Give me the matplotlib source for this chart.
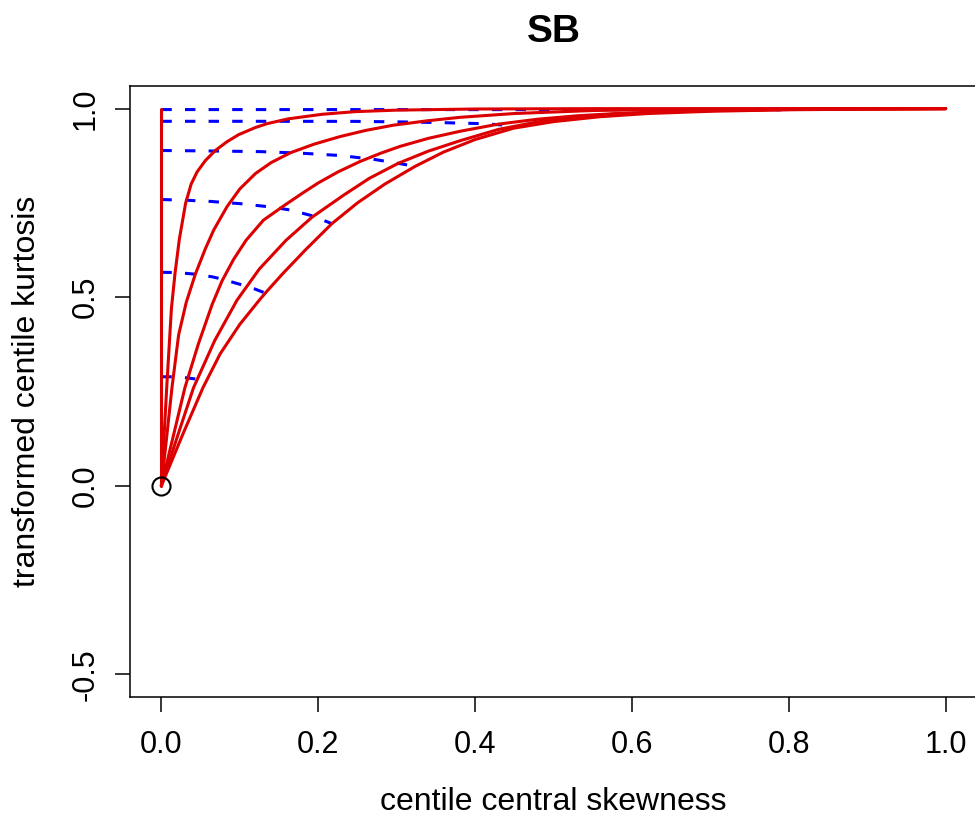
import matplotlib
matplotlib.use('Agg')
import matplotlib.pyplot as plt

plt.rcParams['font.family'] = ['Liberation Sans', 'DejaVu Sans']
plt.rcParams['lines.scale_dashes'] = False

# red curves: centile central skewness (sk) vs transformed centile kurtosis (ku)
sk_1 = [0.0, 0.0]
ku_1 = [0.0, 1.0]

sk_2 = [0, 0.0034, 0.0068, 0.0128, 0.0175, 0.023, 0.031, 0.038, 0.0455,
        0.056, 0.0688, 0.0835, 0.0985, 0.12, 0.1346, 0.162, 0.205, 0.247,
        0.3, 0.4, 0.55, 1.0]
ku_2 = [0, 0.13, 0.26, 0.47, 0.565, 0.655, 0.750, 0.800, 0.832,
        0.862, 0.889, 0.912, 0.931, 0.950, 0.960, 0.973, 0.985, 0.992,
        0.996, 0.999, 1.0, 1.0]

sk_3 = [0, 0.0068, 0.0135, 0.022, 0.0318, 0.0433, 0.056, 0.0667, 0.0837,
        0.1, 0.12, 0.14, 0.1646, 0.195, 0.228, 0.26, 0.2955, 0.34, 0.381,
        0.45, 0.55, 0.65, 0.8, 1.0]
ku_3 = [0, 0.13, 0.26, 0.40, 0.487, 0.561, 0.628, 0.678, 0.740,
        0.787, 0.828, 0.857, 0.883, 0.906, 0.926, 0.942, 0.956, 0.968, 0.977,
        0.987, 0.995, 0.998, 0.9995, 1.0]

sk_4 = [0, 0.015, 0.030, 0.047, 0.0646, 0.0773, 0.092, 0.108, 0.13, 0.1558,
        0.18, 0.2, 0.225, 0.2535, 0.28, 0.3045, 0.34, 0.381, 0.43, 0.48,
        0.53, 0.58, 0.65, 0.72, 0.8, 0.9, 1.0]
ku_4 = [0, 0.13, 0.26, 0.375, 0.480, 0.543, 0.600, 0.651, 0.704, 0.742,
        0.776, 0.803, 0.832, 0.860, 0.882, 0.900, 0.921, 0.940, 0.959, 0.972,
        0.981, 0.987, 0.992, 0.9956, 0.9976, 0.999, 1.0]

sk_5 = [0, 0.02, 0.041, 0.068, 0.0964, 0.125, 0.159, 0.192, 0.232, 0.265,
        0.302, 0.34, 0.381, 0.43, 0.48, 0.53, 0.58, 0.65, 0.72, 0.8, 0.9,
        1.0]
ku_5 = [0, 0.128, 0.26, 0.385, 0.492, 0.575, 0.651, 0.712, 0.770, 0.815,
        0.855, 0.887, 0.915, 0.945, 0.965, 0.978, 0.986, 0.992, 0.996, 0.998,
        0.9993, 1.0]

sk_6 = [0, 0.027, 0.053, 0.075, 0.1, 0.124, 0.1325, 0.155, 0.183, 0.2174,
        0.25, 0.285, 0.3236, 0.36, 0.40, 0.4488, 0.5, 0.559, 0.62, 0.7, 0.8,
        0.9, 1.0]
ku_6 = [0, 0.135, 0.26, 0.35, 0.428, 0.490, 0.511, 0.563, 0.624, 0.695,
        0.750, 0.800, 0.847, 0.885, 0.918, 0.948, 0.9655, 0.9785, 0.987,
        0.993, 0.997, 0.9986, 1.0]

# blue dashed curves
bsk_1 = [0, 0.2, 0.4, 0.6, 0.79]
bku_1 = [0.9975, 0.9975, 0.9974, 0.9972, 0.997]

bsk_2 = [0, 0.12, 0.247, 0.3045, 0.3554, 0.4064, 0.4488]
bku_2 = [0.9664, 0.9664, 0.9662, 0.9648, 0.963, 0.9603, 0.955]

bsk_3 = [0, 0.0688, 0.1261, 0.1771, 0.228, 0.2726, 0.3045, 0.3236]
bku_3 = [0.889, 0.8876, 0.886, 0.882, 0.8757, 0.865, 0.854, 0.847]

bsk_4 = [0, 0.0327, 0.0624, 0.1006, 0.1404, 0.165, 0.192, 0.2174]
bku_4 = [0.759, 0.757, 0.754, 0.748, 0.739, 0.731, 0.716, 0.695]

bsk_5 = [0, 0.0187, 0.0327, 0.0433, 0.065, 0.0773, 0.0955, 0.114, 0.1325]
bku_5 = [0.566, 0.5655, 0.563, 0.561, 0.554, 0.548, 0.537, 0.526, 0.511]

bsk_6 = [0, 0.014, 0.0306, 0.0446]
bku_6 = [0.289, 0.289, 0.2865, 0.283]

xticks = [0.0, 0.2, 0.4, 0.6, 0.8, 1.0]
yticks = [-0.5, 0.0, 0.5, 1.0]

red = '#dd0000'
blue = '#0000ff'
fs_tick = 22
fs_lab = 23


def main():
    fig = plt.figure(figsize=(9.75, 8.17), dpi=100)
    ax = fig.add_axes([130 / 975, 1 - 697 / 817, 847 / 975, 611 / 817])

    for bx, by in [(bsk_1, bku_1), (bsk_2, bku_2), (bsk_3, bku_3),
                   (bsk_4, bku_4), (bsk_5, bku_5), (bsk_6, bku_6)]:
        ax.plot(bx, by, color=blue, lw=2.2, dashes=(7.5, 9.5),
                dash_capstyle='butt', zorder=2)

    for rx, ry in [(sk_1, ku_1), (sk_2, ku_2), (sk_3, ku_3),
                   (sk_4, ku_4), (sk_5, ku_5), (sk_6, ku_6)]:
        ax.plot(rx, ry, color=red, lw=2.2, solid_capstyle='round',
                solid_joinstyle='round', zorder=3)

    ax.plot([0], [0], 'o', mfc='none', mec='black', ms=13, mew=1.5, zorder=4)

    ax.set_xlim(-0.04, 1.04)
    ax.set_ylim(-0.56, 1.06)
    ax.set_xticks(xticks)
    ax.set_xticklabels(['%.1f' % v for v in xticks])
    ax.set_yticks(yticks)
    ax.set_yticklabels(['%.1f' % v for v in yticks])
    for lab in ax.get_yticklabels():
        lab.set_rotation(90)
        lab.set_va('center')
    ax.tick_params(direction='out', length=11, width=1.1,
                   labelsize=fs_tick, color='black')
    ax.tick_params(axis='x', pad=13)
    ax.tick_params(axis='y', pad=10)
    for sp in ax.spines.values():
        sp.set_linewidth(1.1)

    ax.set_xlabel('centile central skewness', fontsize=fs_lab, labelpad=19)
    ax.set_ylabel('transformed centile kurtosis', fontsize=fs_lab,
                  labelpad=21)
    ax.set_title('SB', fontsize=28, fontweight='bold', pad=32)

    fig.savefig('out.png', dpi=100)
    plt.close(fig)


if __name__ == "__main__":
    main()
